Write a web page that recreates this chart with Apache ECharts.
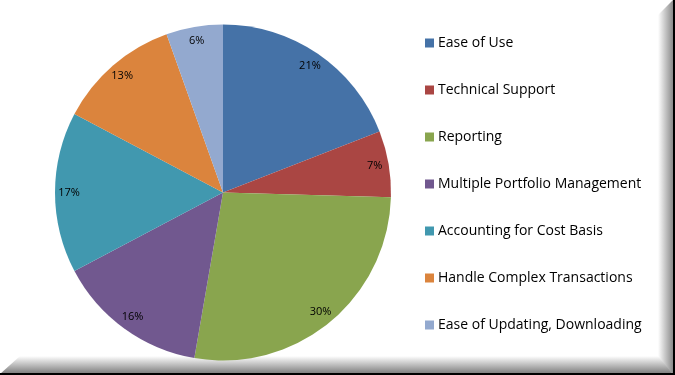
<!DOCTYPE html>
<html>
<head>
<meta charset="utf-8">
<script src="https://cdn.jsdelivr.net/npm/echarts@6/dist/echarts.min.js"></script>
<style>
html,body{margin:0;padding:0;background:#fff;}
#c{width:675px;height:375px;}
</style>
</head>
<body>
<div id="c"></div>
<script>
var categories = ["Ease of Use","Technical Support","Reporting","Multiple Portfolio Management","Accounting for Cost Basis","Handle Complex Transactions","Ease of Updating, Downloading"];
var values = [21,7,30,16,17,13,6];
var colors = ["#4572A7","#AA4643","#89A54E","#71588F","#4198AF","#DB843D","#93A9CF"];

var data = categories.map(function(n,i){return {name:n, value:values[i]};});
var chart = echarts.init(document.getElementById('c'), null, {renderer:'canvas'});
var font = "'Open Sans', sans-serif";
chart.setOption({
  animation:false,
  backgroundColor:'#fff',
  color: colors,
  legend:{
    orient:'vertical', left:420, top:30,
    icon:'rect', itemWidth:9, itemHeight:9, itemGap:31,
    textStyle:{fontFamily:font, fontSize:14, color:'#000', lineHeight:16, padding:[0,0,0,-1]},
    data: categories
  },
  series:[
    {
      type:'pie', center:[223,192.5], radius:[0,168], startAngle:90, clockwise:true,
      data:data, label:{show:false}, labelLine:{show:false}, silent:true,
      itemStyle:{borderWidth:0}
    },
    {
      type:'pie', center:[223,192.5], radius:[134,168], startAngle:90, clockwise:true,
      data:data, silent:true, legendHoverLink:false,
      itemStyle:{color:'rgba(0,0,0,0)', borderWidth:0},
      labelLine:{show:false},
      label:{show:true, position:'inside', formatter:'{c}%', fontFamily:font, fontSize:11, color:'#000'}
    }
  ],
  graphic:[
    {type:'polygon', shape:{points:[[673,0],[673,374],[658,358],[658,15]]},
      style:{fill:new echarts.graphic.LinearGradient(0,0,1,0,[{offset:0,color:'#ffffff'},{offset:1,color:'#8a8a8a'}])}, silent:true},
    {type:'polygon', shape:{points:[[0,374],[673,374],[658,356],[20,356]]},
      style:{fill:new echarts.graphic.LinearGradient(0,0,0,1,[{offset:0,color:'#ffffff'},{offset:1,color:'#7a7a7a'}])}, silent:true},
    {type:'rect', shape:{x:673,y:0,width:2,height:375}, style:{fill:'#000'}, silent:true},
    {type:'rect', shape:{x:0,y:373,width:675,height:2}, style:{fill:'#000'}, silent:true}
  ]
});
</script>
</body>
</html>
